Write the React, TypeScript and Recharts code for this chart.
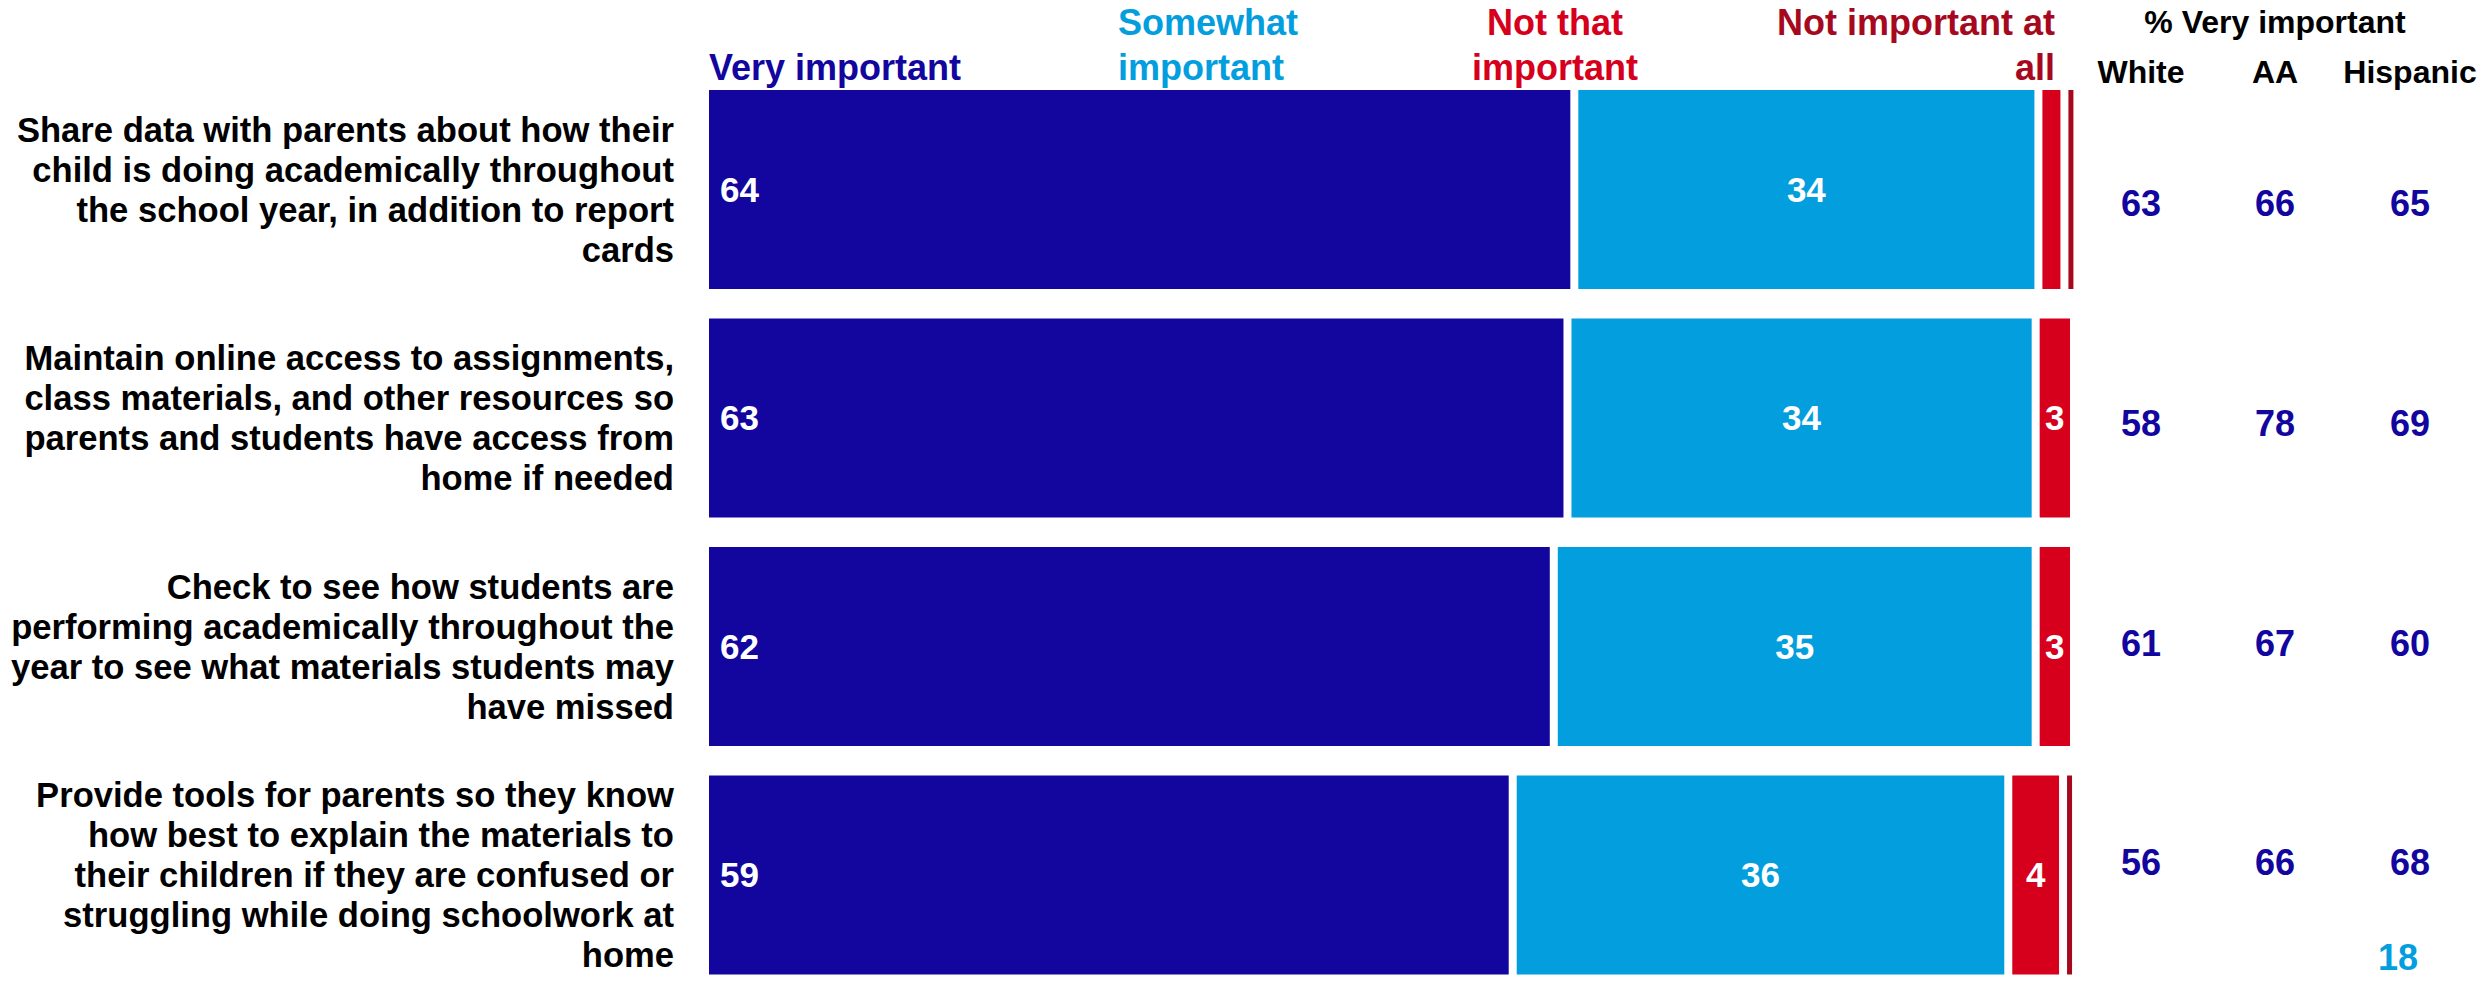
import React from "react";
import { BarChart, Bar, XAxis, YAxis, LabelList } from "recharts";

const categories = ["share", "online", "check", "tools"];

const categoryLines = [
    ["Share data with parents about how their", "child is doing academically throughout", "the school year, in addition to report", "cards"],
    ["Maintain online access to assignments,", "class materials, and other resources so", "parents and students have access from", "home if needed"],
    ["Check to see how students are", "performing academically throughout the", "year to see what materials students may", "have missed"],
    ["Provide tools for parents so they know", "how best to explain the materials to", "their children if they are confused or", "struggling while doing schoolwork at", "home"],
];

const veryImportant = [63.5, 63.0, 62.0, 59.0];
const somewhatImportant = [33.9, 34.2, 35.2, 36.2];
const notThatImportant = [1.9, 2.8, 2.8, 4.0];
const notImportantAtAll = [0.7, 0, 0, 0.8];

const whiteVery = [63, 58, 61, 56];
const aaVery = [66, 78, 67, 66];
const hispanicVery = [65, 69, 60, 68];

const C_VERY = "#12069E";
const C_SOME = "#039EDE";
const C_NOT = "#D6001C";
const C_NOTALL = "#A6091E";

const FONT = "'Liberation Sans', Arial, sans-serif";

const data = categories.map((c, i) => ({
    name: c,
    very: veryImportant[i],
    some: somewhatImportant[i],
    notThat: notThatImportant[i],
    notAll: notImportantAtAll[i],
}));

const GAP = 4;

function Segment(props: any) {
    const { x, y, width, height, fill } = props;
    if (!width || width <= 0) return null;
    const w = Math.max(width - GAP * 2, 5);
    return <rect x={x + GAP} y={y} width={w} height={height} fill={fill} />;
}

function CategoryTick(props: any) {
    const { x, y, payload } = props;
    const idx = categories.indexOf(payload.value);
    const lines = categoryLines[idx] || [];
    const lh = 40;
    const start = -((lines.length - 1) / 2) * lh;
    return (
        <text
            x={x}
            y={y}
            textAnchor="end"
            fontFamily={FONT}
            fontWeight="bold"
            fontSize={34.6}
            fill="#000"
        >
            {lines.map((l: string, i: number) => (
                <tspan key={i} x={x} y={y + start + i * lh} dy="0.36em">
                    {l}
                </tspan>
            ))}
        </text>
    );
}

const fmt = (v: any) => (typeof v === "number" && v >= 2.5 ? String(Math.round(v)) : "");

const labelStyle = { fill: "#fff", fontFamily: FONT, fontWeight: "bold", fontSize: 35 } as any;

export default function App() {
    const colX = [2141, 2275, 2410];
    const rowY = [203, 423, 643, 862];
    const cols = [whiteVery, aaVery, hispanicVery];
    return (
        <div
            style={{
                position: "absolute",
                left: 0,
                top: 0,
                width: 2486,
                height: 981,
                overflow: "hidden",
                background: "#fff",
            }}
        >
            <BarChart
                width={2486}
                height={1000}
                data={data}
                layout="vertical"
                margin={{ top: 75, right: 412, left: 0, bottom: 11 }}
                barSize={199}
            >
                <XAxis type="number" domain={[0, 100]} hide />
                <YAxis
                    type="category"
                    dataKey="name"
                    width={705}
                    axisLine={false}
                    tickLine={false}
                    tickMargin={25}
                    tick={<CategoryTick />}
                />
                <Bar dataKey="very" stackId="a" fill={C_VERY} shape={<Segment />} isAnimationActive={false}>
                    <LabelList dataKey="very" position="insideLeft" offset={15} formatter={fmt} style={labelStyle} />
                </Bar>
                <Bar dataKey="some" stackId="a" fill={C_SOME} shape={<Segment />} isAnimationActive={false}>
                    <LabelList dataKey="some" position="center" formatter={fmt} style={labelStyle} />
                </Bar>
                <Bar dataKey="notThat" stackId="a" fill={C_NOT} shape={<Segment />} isAnimationActive={false}>
                    <LabelList dataKey="notThat" position="center" formatter={fmt} style={labelStyle} />
                </Bar>
                <Bar dataKey="notAll" stackId="a" fill={C_NOTALL} shape={<Segment />} isAnimationActive={false}>
                    <LabelList dataKey="notAll" position="center" formatter={fmt} style={labelStyle} />
                </Bar>
            </BarChart>
            <svg
                width={2486}
                height={981}
                style={{ position: "absolute", left: 0, top: 0, pointerEvents: "none" }}
                fontFamily={FONT}
                fontWeight="bold"
            >
                <text x={709} y={80} fontSize={36} fill={C_VERY}>Very important</text>
                <text x={1118} y={35} fontSize={36} fill={C_SOME}>Somewhat</text>
                <text x={1118} y={80} fontSize={36} fill={C_SOME}>important</text>
                <text x={1555} y={35} fontSize={36} fill={C_NOT} textAnchor="middle">Not that</text>
                <text x={1555} y={80} fontSize={36} fill={C_NOT} textAnchor="middle">important</text>
                <text x={2055} y={35} fontSize={36} fill={C_NOTALL} textAnchor="end">Not important at</text>
                <text x={2055} y={80} fontSize={36} fill={C_NOTALL} textAnchor="end">all</text>

                <text x={2275} y={33} fontSize={32} fill="#000" textAnchor="middle">% Very important</text>
                <text x={colX[0]} y={83} fontSize={32} fill="#000" textAnchor="middle">White</text>
                <text x={colX[1]} y={83} fontSize={32} fill="#000" textAnchor="middle">AA</text>
                <text x={colX[2]} y={83} fontSize={32} fill="#000" textAnchor="middle">Hispanic</text>
                {cols.map((vals, c) =>
                    vals.map((v, r) => (
                        <text
                            key={c + "-" + r}
                            x={colX[c]}
                            y={rowY[r]}
                            dy="0.36em"
                            fontSize={36}
                            fill={C_VERY}
                            textAnchor="middle"
                        >
                            {v}
                        </text>
                    ))
                )}
                <text x={2398} y={957} dy="0.36em" fontSize={36} fill={C_SOME} textAnchor="middle">18</text>
            </svg>
        </div>
    );
}
